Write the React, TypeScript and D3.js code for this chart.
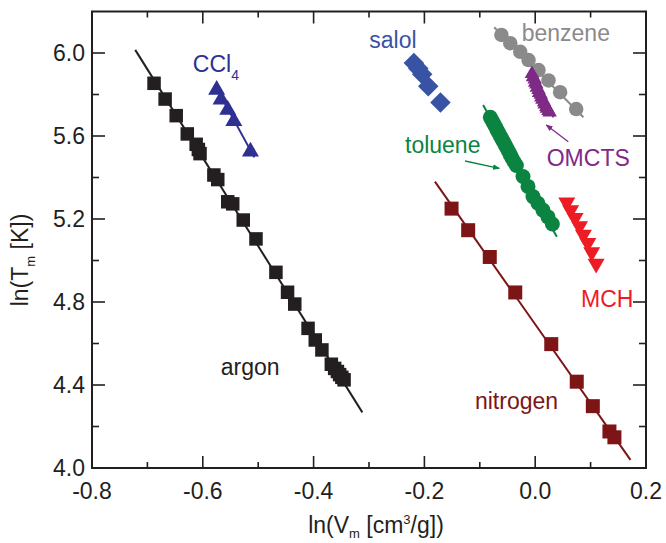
import React from 'react';
import * as d3 from 'd3';

// ---------- data ----------
const xMajorTicks = [-0.8, -0.6, -0.4, -0.2, 0.0, 0.2];
const xMinorTicks = [-0.7, -0.5, -0.3, -0.1, 0.1];
const yMajorTicks = [4.0, 4.4, 4.8, 5.2, 5.6, 6.0];
const yMinorTicks = [4.2, 4.6, 5.0, 5.4, 5.8];

const argonX = [-0.688, -0.668, -0.648, -0.628, -0.612, -0.608, -0.605, -0.58, -0.573, -0.555, -0.546, -0.527, -0.504, -0.468, -0.447, -0.434, -0.41, -0.397, -0.385, -0.368, -0.362, -0.357, -0.353, -0.349, -0.345];
const argonY = [5.854, 5.778, 5.698, 5.61, 5.56, 5.535, 5.515, 5.412, 5.39, 5.283, 5.273, 5.195, 5.104, 4.943, 4.847, 4.79, 4.673, 4.617, 4.569, 4.5, 4.48, 4.465, 4.45, 4.437, 4.425];
const argonFit = [[-0.722, 6.015], [-0.312, 4.268]];

const ccl4X = [-0.575, -0.567, -0.555, -0.544, -0.514];
const ccl4Y = [5.822, 5.775, 5.726, 5.672, 5.525];
const ccl4Fit = [[-0.578, 5.845], [-0.507, 5.497]];

const salolX = [-0.219, -0.211, -0.204, -0.193, -0.171];
const salolY = [5.952, 5.925, 5.898, 5.84, 5.762];

const benzeneX = [-0.061, -0.045, -0.027, -0.012, 0.006, 0.024, 0.045, 0.074];
const benzeneY = [6.087, 6.047, 6.006, 5.966, 5.918, 5.868, 5.811, 5.73];
const benzeneFit = [[-0.074, 6.124], [0.087, 5.69]];

const omctsX = [-0.006, -0.004, -0.001, 0.0, 0.002, 0.003, 0.006, 0.007, 0.01, 0.011, 0.013, 0.016, 0.017, 0.02, 0.021, 0.024, 0.026];
const omctsY = [5.9, 5.884, 5.873, 5.858, 5.849, 5.834, 5.823, 5.808, 5.8, 5.786, 5.776, 5.763, 5.753, 5.741, 5.732, 5.721, 5.714];
const omctsFit = [[-0.008, 5.925], [0.033, 5.69]];

const tolueneX = [-0.081, -0.078, -0.075, -0.072, -0.069, -0.066, -0.063, -0.06, -0.057, -0.054, -0.051, -0.048, -0.045, -0.042, -0.038, -0.034, -0.022, -0.013, -0.004, 0.005, 0.014, 0.023, 0.031];
const tolueneY = [5.69, 5.676, 5.66, 5.646, 5.63, 5.616, 5.6, 5.586, 5.571, 5.556, 5.541, 5.526, 5.51, 5.494, 5.476, 5.458, 5.405, 5.357, 5.308, 5.276, 5.243, 5.21, 5.176];
const tolueneFit = [[-0.094, 5.749], [0.039, 5.115]];

const mchX = [0.057, 0.064, 0.072, 0.08, 0.087, 0.095, 0.102, 0.11];
const mchY = [5.28, 5.243, 5.205, 5.165, 5.125, 5.085, 5.04, 4.985];

const nitrogenX = [-0.151, -0.121, -0.082, -0.036, 0.029, 0.075, 0.104, 0.134, 0.143];
const nitrogenY = [5.25, 5.146, 5.017, 4.846, 4.597, 4.416, 4.298, 4.176, 4.148];
const nitrogenFit = [[-0.181, 5.38], [0.172, 4.039]];

// labels: [x, y] (text start, baseline) in data units
const seriesNames = ['argon', 'nitrogen', 'CCl', 'salol', 'toluene', 'MCH', 'benzene', 'OMCTS'];
const labelX = [-0.5677, -0.1087, -0.618, -0.2995, -0.235, 0.0827, -0.0244, 0.0208];
const labelY = [4.448, 4.283, 5.907, 6.0227, 5.5195, 4.777, 6.059, 5.455];

// arrows: [x0, y0, x1, y1]
const omctsArrow = [0.0597, 5.5725, 0.02, 5.653];
const tolueneArrow = [-0.1267, 5.4795, -0.0648, 5.4443];

// ---------- styling ----------
const W = 666, H = 543;
const FONT = '"Liberation Sans", Arial, Helvetica, sans-serif';
const AXIS = '#231f20';

type Sym = 'square' | 'up' | 'down' | 'diamond' | 'circle';

const series = [
  { name: 'argon', xs: argonX, ys: argonY, fit: argonFit, sym: 'square' as Sym, color: '#231f20', size: 13.5 },
  { name: 'nitrogen', xs: nitrogenX, ys: nitrogenY, fit: nitrogenFit, sym: 'square' as Sym, color: '#7d1416', size: 14 },
  { name: 'CCl4', xs: ccl4X, ys: ccl4Y, fit: ccl4Fit, sym: 'up' as Sym, color: '#2e3192', size: 17 },
  { name: 'salol', xs: salolX, ys: salolY, fit: null, sym: 'diamond' as Sym, color: '#3953a4', size: 14.5 },
  { name: 'toluene', xs: tolueneX, ys: tolueneY, fit: tolueneFit, sym: 'circle' as Sym, color: '#0b8441', size: 15 },
  { name: 'MCH', xs: mchX, ys: mchY, fit: null, sym: 'down' as Sym, color: '#ed1c24', size: 17 },
  { name: 'benzene', xs: benzeneX, ys: benzeneY, fit: benzeneFit, sym: 'circle' as Sym, color: '#8a8a8a', size: 14.5 },
  { name: 'OMCTS', xs: omctsX, ys: omctsY, fit: omctsFit, sym: 'up' as Sym, color: '#7f2a86', size: 14.5 },
];

const labelColors = ['#231f20', '#7d1416', '#2e3192', '#3953a4', '#0b8441', '#ed1c24', '#8a8a8a', '#7f2a86'];

function symbolPath(sym: Sym, s: number): string {
  if (sym === 'square' || sym === 'diamond') return d3.symbol(d3.symbolSquare, s * s)() as string;
  if (sym === 'circle') return d3.symbol(d3.symbolCircle, Math.PI * (s / 2) * (s / 2))() as string;
  return d3.symbol(d3.symbolTriangle, (Math.sqrt(3) / 4) * s * s)() as string;
}

export default function App() {
  const x = d3.scaleLinear().domain([-0.8, 0.2]).range([92, 646]);
  const y = d3.scaleLinear().domain([4.0, 6.2]).range([468, 11.5]);
  const [x0, x1] = x.range();
  const [y0, y1] = y.range();
  const line = d3.line<number[]>().x(d => x(d[0])).y(d => y(d[1]));
  const fmt = (v: number) => v.toFixed(1);

  const arrow = (a: number[], color: string, id: string) => (
    <line x1={x(a[0])} y1={y(a[1])} x2={x(a[2])} y2={y(a[3])} stroke={color} strokeWidth={1.3} markerEnd={`url(#${id})`} />
  );

  return (
    <svg width={W} height={H} style={{ position: 'absolute', left: 0, top: 0, background: '#fff' }} fontFamily={FONT}>
      <defs>
        <marker id="ahP" viewBox="0 0 10 10" refX="9" refY="5" markerWidth="7" markerHeight="7" orient="auto" markerUnits="userSpaceOnUse">
          <path d="M0,1 L10,5 L0,9 z" fill="#7f2a86" />
        </marker>
        <marker id="ahG" viewBox="0 0 10 10" refX="9" refY="5" markerWidth="7" markerHeight="7" orient="auto" markerUnits="userSpaceOnUse">
          <path d="M0,1 L10,5 L0,9 z" fill="#0b8441" />
        </marker>
      </defs>

      {/* fit lines */}
      {series.map(s => s.fit ? (
        <path key={'f' + s.name} d={line(s.fit) as string} fill="none" stroke={s.color} strokeWidth={2} />
      ) : null)}

      {/* markers */}
      {series.map(s => (
        <g key={'m' + s.name} fill={s.color}>
          {s.xs.map((vx, i) => {
            const rot = s.sym === 'down' ? 180 : s.sym === 'diamond' ? 45 : 0;
            return (
              <path key={i} d={symbolPath(s.sym, s.size)}
                transform={`translate(${x(vx)},${y(s.ys[i])}) rotate(${rot})`} />
            );
          })}
        </g>
      ))}

      {/* arrows */}
      {arrow(omctsArrow, '#7f2a86', 'ahP')}
      {arrow(tolueneArrow, '#0b8441', 'ahG')}

      {/* series labels */}
      {seriesNames.map((n, i) => (
        <text key={'l' + n} x={x(labelX[i])} y={y(labelY[i])} fontSize={23} fill={labelColors[i]}>
          {n}
          {n === 'CCl' ? <tspan fontSize={14} dy={8}>4</tspan> : null}
        </text>
      ))}

      {/* frame */}
      <rect x={x0} y={y1} width={x1 - x0} height={y0 - y1} fill="none" stroke={AXIS} strokeWidth={2} />

      {/* x ticks bottom & top */}
      {xMajorTicks.map(t => (
        <g key={'xM' + t} stroke={AXIS} strokeWidth={1.6}>
          <line x1={x(t)} x2={x(t)} y1={y0} y2={y0 - 12} />
          <line x1={x(t)} x2={x(t)} y1={y1} y2={y1 + 12} />
        </g>
      ))}
      {xMinorTicks.map(t => (
        <g key={'xm' + t} stroke={AXIS} strokeWidth={1.6}>
          <line x1={x(t)} x2={x(t)} y1={y0} y2={y0 - 6} />
          <line x1={x(t)} x2={x(t)} y1={y1} y2={y1 + 6} />
        </g>
      ))}
      {yMajorTicks.map(t => (
        <g key={'yM' + t} stroke={AXIS} strokeWidth={1.6}>
          <line x1={x0} x2={x0 + 13} y1={y(t)} y2={y(t)} />
          <line x1={x1} x2={x1 - 13} y1={y(t)} y2={y(t)} />
        </g>
      ))}
      {yMinorTicks.map(t => (
        <g key={'ym' + t} stroke={AXIS} strokeWidth={1.6}>
          <line x1={x0} x2={x0 + 7} y1={y(t)} y2={y(t)} />
          <line x1={x1} x2={x1 - 7} y1={y(t)} y2={y(t)} />
        </g>
      ))}

      {/* tick labels */}
      {xMajorTicks.map(t => (
        <text key={'xl' + t} x={x(t)} y={499} fontSize={23} textAnchor="middle" fill={AXIS}>{fmt(t)}</text>
      ))}
      {yMajorTicks.map(t => (
        <text key={'yl' + t} x={85} y={y(t) + 8} fontSize={23} textAnchor="end" fill={AXIS}>{fmt(t)}</text>
      ))}

      {/* axis titles */}
      <text x={376} y={533} fontSize={23} textAnchor="middle" fill={AXIS}>
        ln(V<tspan fontSize={13} dy={5}>m</tspan><tspan dy={-5}> [cm</tspan><tspan fontSize={13} dy={-9}>3</tspan><tspan dy={9}>/g])</tspan>
      </text>
      <text transform={`translate(28,260) rotate(-90)`} fontSize={23} textAnchor="middle" fill={AXIS}>
        ln(T<tspan fontSize={13} dy={7}>m</tspan><tspan dy={-7}> [K])</tspan>
      </text>
    </svg>
  );
}
